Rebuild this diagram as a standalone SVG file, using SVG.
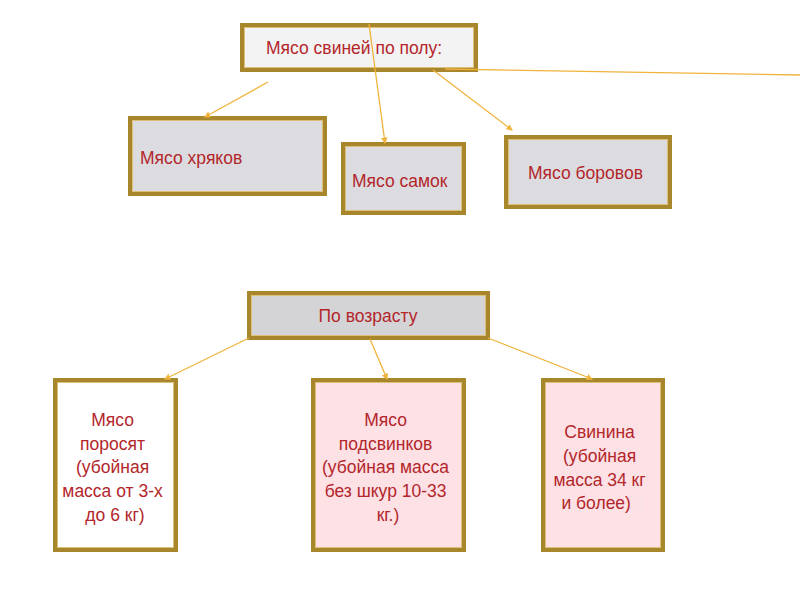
<svg xmlns="http://www.w3.org/2000/svg" width="800" height="600" viewBox="0 0 800 600">
<defs>
<style>
.frame{stroke:#a8862c;stroke-width:4}
.inner{fill:none;stroke:#dcc07a;stroke-width:1}
.grey{fill:#dcdce0}
.light{fill:#f3f3f3}
.dgrey{fill:#d4d4d6}
.white{fill:#ffffff}
.pink{fill:#fde1e5}
.t{font-family:"Liberation Sans","Noto Sans",sans-serif;font-size:17.5px;fill:#b3262b}
.c{text-anchor:middle}
.ln{stroke:#f0b33c;stroke-width:1.3;fill:none}
</style>
<marker id="ah" viewBox="0 0 6 6" refX="5" refY="3" markerWidth="5" markerHeight="5" orient="auto">
<path d="M0,0 L6,3 L0,6 z" fill="#f0b33c"/>
</marker>
</defs>
<rect width="800" height="600" fill="#ffffff"/>

<g id="n-top">
<rect class="frame light" x="242" y="25" width="234" height="45"/>
<rect class="inner" x="244.5" y="27.5" width="229" height="40"/>
<text class="t" x="266" y="54">Мясо свиней по полу:</text>
</g>
<g id="n-hryak">
<rect class="frame grey" x="130" y="118" width="195" height="76"/>
<rect class="inner" x="132.5" y="120.5" width="190" height="71"/>
<text class="t" x="140" y="164">Мясо хряков</text>
</g>
<g id="n-samok">
<rect class="frame grey" x="343" y="144" width="121" height="69"/>
<rect class="inner" x="345.5" y="146.5" width="116" height="64"/>
<text class="t" x="352" y="187">Мясо самок</text>
</g>
<g id="n-borov">
<rect class="frame grey" x="506" y="137" width="164" height="70"/>
<rect class="inner" x="508.5" y="139.5" width="159" height="65"/>
<text class="t" x="528" y="179">Мясо боровов</text>
</g>
<g id="n-age">
<rect class="frame dgrey" x="249" y="293" width="239" height="45"/>
<rect class="inner" x="251.5" y="295.5" width="234" height="40"/>
<text class="t c" x="368" y="322">По возрасту</text>
</g>
<g id="n-porosyat">
<rect class="frame white" x="55" y="380" width="121" height="170"/>
<rect class="inner" x="57.5" y="382.5" width="116" height="165"/>
<text class="t c" x="115">
<tspan x="115" y="426">Мясо</tspan>
<tspan x="115" y="450">поросят</tspan>
<tspan x="115" y="473">(убойная</tspan>
<tspan x="115" y="497">масса от 3-х</tspan>
<tspan x="115" y="521">до 6 кг)</tspan>
</text>
</g>
<g id="n-podsvinki">
<rect class="frame pink" x="313" y="380" width="151" height="170"/>
<rect class="inner" x="315.5" y="382.5" width="146" height="165"/>
<text class="t c" x="388">
<tspan x="388" y="426">Мясо</tspan>
<tspan x="388" y="450">подсвинков</tspan>
<tspan x="388" y="473">(убойная масса</tspan>
<tspan x="388" y="497">без шкур 10-33</tspan>
<tspan x="388" y="521">кг.)</tspan>
</text>
</g>
<g id="n-svinina">
<rect class="frame pink" x="543" y="380" width="120" height="170"/>
<rect class="inner" x="545.5" y="382.5" width="115" height="165"/>
<text class="t c" x="602">
<tspan x="602" y="438">Свинина</tspan>
<tspan x="602" y="462">(убойная</tspan>
<tspan x="602" y="486">масса 34 кг</tspan>
<tspan x="602" y="509">и более)<tspan fill="#f8e4e8">))</tspan></tspan>
</text>
</g>

<g id="connectors">
<line class="ln" x1="268" y1="82" x2="205" y2="117" marker-end="url(#ah)"/>
<line class="ln" x1="369" y1="24" x2="385" y2="143" marker-end="url(#ah)"/>
<line class="ln" x1="433" y1="70" x2="512" y2="130" marker-end="url(#ah)"/>
<line class="ln" x1="445" y1="69" x2="800" y2="75"/>
<line class="ln" x1="249" y1="338" x2="165" y2="379" marker-end="url(#ah)"/>
<line class="ln" x1="370" y1="339" x2="387" y2="379" marker-end="url(#ah)"/>
<line class="ln" x1="488" y1="338" x2="592" y2="379" marker-end="url(#ah)"/>
</g>
</svg>
